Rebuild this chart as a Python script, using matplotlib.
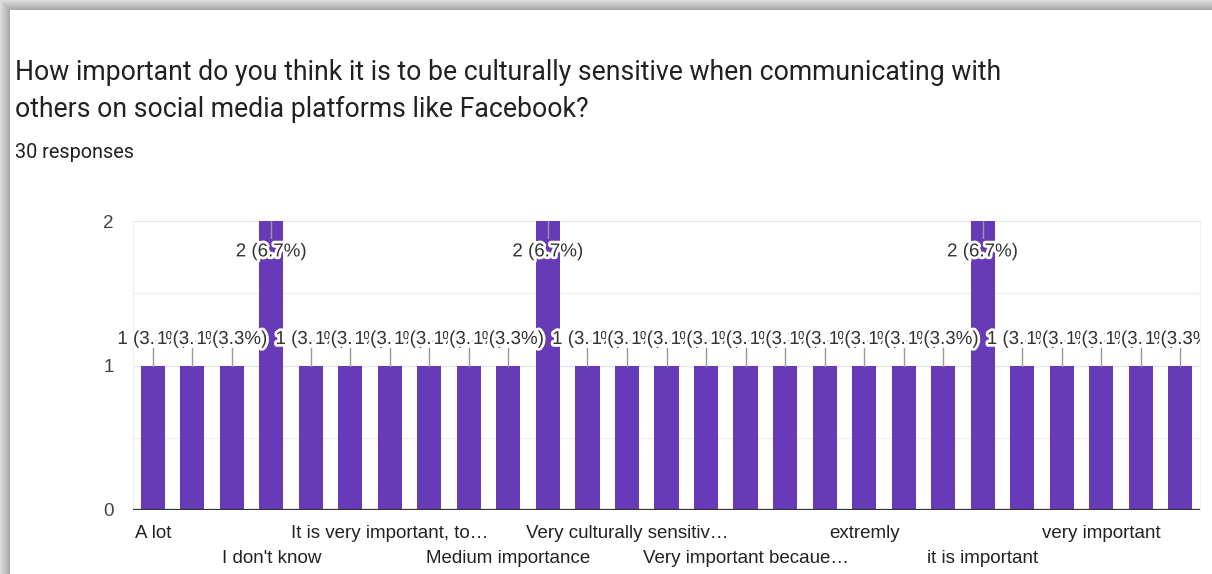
import numpy as np
import matplotlib
matplotlib.use("Agg")
import matplotlib.pyplot as plt
import matplotlib.patheffects as pe
from matplotlib.transforms import Bbox, TransformedBbox, blended_transform_factory

# Data (27 answer categories, 30 responses)
title_lines = ["How important do you think it is to be culturally sensitive when communicating with",
               "others on social media platforms like Facebook?"]
subtitle = "30 responses"
counts = [1, 1, 1, 2, 1, 1, 1, 1, 1, 1, 2, 1, 1, 1, 1, 1, 1, 1, 1, 1, 1, 2, 1, 1, 1, 1, 1]
# only every third label is shown in the chart, the rest are hidden
categories = ["A lot", "", "", "I don't know", "", "", "It is very important, to\u2026", "", "",
              "Medium importance", "", "", "Very culturally sensitiv\u2026", "", "",
              "Very important becaue\u2026", "", "", "extremly", "", "",
              "it is important", "", "", "very important", "", ""]
total = 30
yticks = [0, 1, 2]

W, H = 1212, 574
fig = plt.figure(figsize=(W / 100, H / 100), dpi=100)
fig.patch.set_facecolor("white")

# screenshot shadow along the top and left edge
bg = fig.add_axes([0, 0, 1, 1], zorder=-5)
bg.set_xlim(0, W)
bg.set_ylim(H, 0)
bg.axis("off")
for i, g in enumerate(np.linspace(0.86, 0.66, 10)):
    bg.add_patch(plt.Rectangle((i, i), W, 1, color=str(g), lw=0))
    bg.add_patch(plt.Rectangle((i, i), 1, H, color=str(g), lw=0))

fig.text(15 / W, 1 - 80 / H, title_lines[0], fontsize=19.2, family="Roboto", color="#202124",
         va="baseline")
fig.text(15 / W, 1 - 117 / H, title_lines[1], fontsize=19.2, family="Roboto", color="#202124",
         va="baseline")
fig.text(15 / W, 1 - 158 / H, subtitle, fontsize=14.3, family="Roboto", color="#202124",
         va="baseline")

ax = fig.add_axes([133 / W, 64 / H, (1200 - 133) / W, (510 - 221) / H])
x = np.arange(len(counts))
ax.bar(x, counts, width=0.61, color="#673ab7", zorder=2)
ax.set_xlim(-0.5, len(counts) - 0.5)
ax.set_ylim(0, 2)

for v in [0.5, 1.5]:
    ax.axhline(v, color="#f0f0f0", lw=1, zorder=0)
for v in [1, 2]:
    ax.axhline(v, color="#e6e6e6", lw=1, zorder=0)
ax.axhline(0, color="#333333", lw=1.6, zorder=3)
for s in ["top", "bottom"]:
    ax.spines[s].set_visible(False)
for s in ["left", "right"]:
    ax.spines[s].set_color("#f0f0f0")

ax.set_xticks([])
ax.set_yticks(yticks)
ax.set_yticklabels([str(t) for t in yticks], fontsize=13.5, family="Liberation Sans", color="#444444")
ax.tick_params(axis="y", length=0, pad=14)

# category labels, alternating rows
trans = blended_transform_factory(ax.transData, ax.transAxes)
for i, lab in enumerate(categories):
    if lab:
        row = (i // 3) % 2
        ax.text(i, -0.08 - row * 0.087, lab, transform=trans, ha="center", va="center",
                fontsize=13.5, family="Liberation Sans", color="#222222")

# value annotations with leader lines, drawn left to right
clip = TransformedBbox(Bbox([[-0.3, -0.2], [1.0, 1.2]]), ax.transAxes)
stroke = [pe.withStroke(linewidth=4, foreground="white")]
for i, c in enumerate(counts):
    if c == max(counts):
        ytxt, yline = c - 0.214, c - 0.12
    else:
        ytxt, yline = c + 0.18, c + 0.12
    ax.plot([i, i], [c, yline], color="#999999", lw=1, zorder=4, clip_on=False)
    t = ax.text(i, ytxt, f"{c} ({c / total * 100:.1f}%)", ha="center", va="center",
                fontsize=13.5, family="Liberation Sans", color="#333333",
                path_effects=stroke, zorder=5 + i * 0.01)
    t.set_clip_box(clip)
    t.set_clip_on(True)

fig.savefig("out.png", dpi=100)
